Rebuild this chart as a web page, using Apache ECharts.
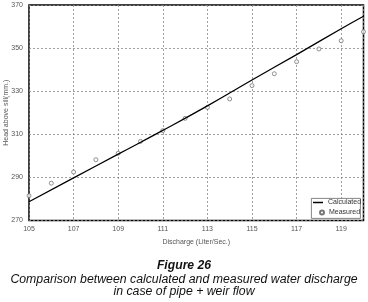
<!DOCTYPE html>
<html>
<head>
<meta charset="utf-8">
<script src="https://cdn.jsdelivr.net/npm/echarts@6.0.0/dist/echarts.min.js"></script>
<style>
  html, body { margin: 0; padding: 0; background: #fff; }
  #chart-container { width: 368px; height: 302px; }
</style>
</head>
<body>
<div id="chart-container"></div>
<script>
// values
const calcX = [105, 107, 109, 111, 113, 115, 117, 119, 120];
const calcY = [278.7, 289.8, 300.8, 311.8, 323.2, 335.2, 347.0, 359.0, 364.8];
const measX = [105, 106, 107, 108, 109, 110, 111, 112, 113, 114, 115, 116, 117, 118, 119, 120];
const measY = [281.5, 287.3, 292.5, 298.2, 301.2, 306.7, 311.7, 317.4, 322.5, 326.4, 332.6, 338.1, 343.7, 349.6, 353.4, 357.6];

const chart = echarts.init(document.getElementById('chart-container'));

const font = 'Liberation Sans';
const axisText = { color: '#555', fontSize: 7, fontFamily: font };
const gridLine = { show: true, lineStyle: { color: '#888', type: [2, 2], width: 0.8 } };
const legendText = { fontSize: 7, color: '#333', fontFamily: font };
const capStyle = { fontSize: 12.3, fontStyle: 'italic', fontWeight: 'normal', color: '#111', fontFamily: font };

const option = {
  animation: false,
  backgroundColor: '#fff',
  grid: {
    left: 29, right: 4.5, top: 5, bottom: 81.5,
    outerBoundsMode: 'none',
    show: true, borderColor: '#000', borderWidth: 1.5
  },
  title: [
    {
      text: 'Figure 26', left: 'center', top: 259.5, padding: 0,
      textStyle: { fontSize: 12.2, fontWeight: 'bold', fontStyle: 'italic', color: '#111', fontFamily: font }
    },
    {
      text: 'Comparison between calculated and measured water discharge',
      left: 'center', top: 274, padding: 0, textStyle: capStyle
    },
    {
      text: 'in case of pipe + weir flow',
      left: 'center', top: 286, padding: 0, textStyle: capStyle
    }
  ],
  graphic: [{
    type: 'rect', left: 311, top: 198, z: 10,
    shape: { width: 49, height: 20 },
    style: { fill: '#fff', stroke: '#666', lineWidth: 0.8 }
  }],
  legend: [
    {
      left: 311, top: 198, z: 20, padding: [1, 0, 0, 2],
      itemWidth: 10, itemHeight: 1.5, icon: 'rect', itemGap: 2,
      textStyle: legendText, data: ['Calculated']
    },
    {
      left: 317, top: 208, z: 20, padding: [1, 0, 0, 2],
      itemWidth: 4, itemHeight: 4, itemGap: 2,
      textStyle: legendText, data: ['Measured']
    }
  ],
  xAxis: {
    type: 'value', min: 105, max: 120, interval: 2,
    name: 'Discharge (Liter/Sec.)', nameLocation: 'middle', nameGap: 18,
    nameMoveOverlap: false,
    nameTextStyle: axisText,
    axisLine: { show: false }, axisTick: { show: false },
    axisLabel: Object.assign({ showMaxLabel: false, margin: 5 }, axisText),
    splitLine: gridLine
  },
  yAxis: {
    type: 'value', min: 270, max: 370, interval: 20,
    name: 'Head above sill(mm.)', nameLocation: 'middle', nameGap: 19.5,
    nameMoveOverlap: false,
    nameTextStyle: axisText,
    axisLine: { show: false }, axisTick: { show: false },
    axisLabel: Object.assign({ margin: 6 }, axisText),
    splitLine: gridLine
  },
  series: [
    {
      name: 'Calculated', type: 'line', smooth: true, symbol: 'none',
      data: calcX.map((x, i) => [x, calcY[i]]),
      lineStyle: { color: '#000', width: 1.3 },
      itemStyle: { color: '#000' }
    },
    {
      name: 'Measured', type: 'scatter', symbol: 'circle', symbolSize: 4,
      data: measX.map((x, i) => [x, measY[i]]),
      itemStyle: { color: '#fff', borderColor: '#555', borderWidth: 0.8 }
    }
  ]
};

chart.setOption(option);
</script>
</body>
</html>
